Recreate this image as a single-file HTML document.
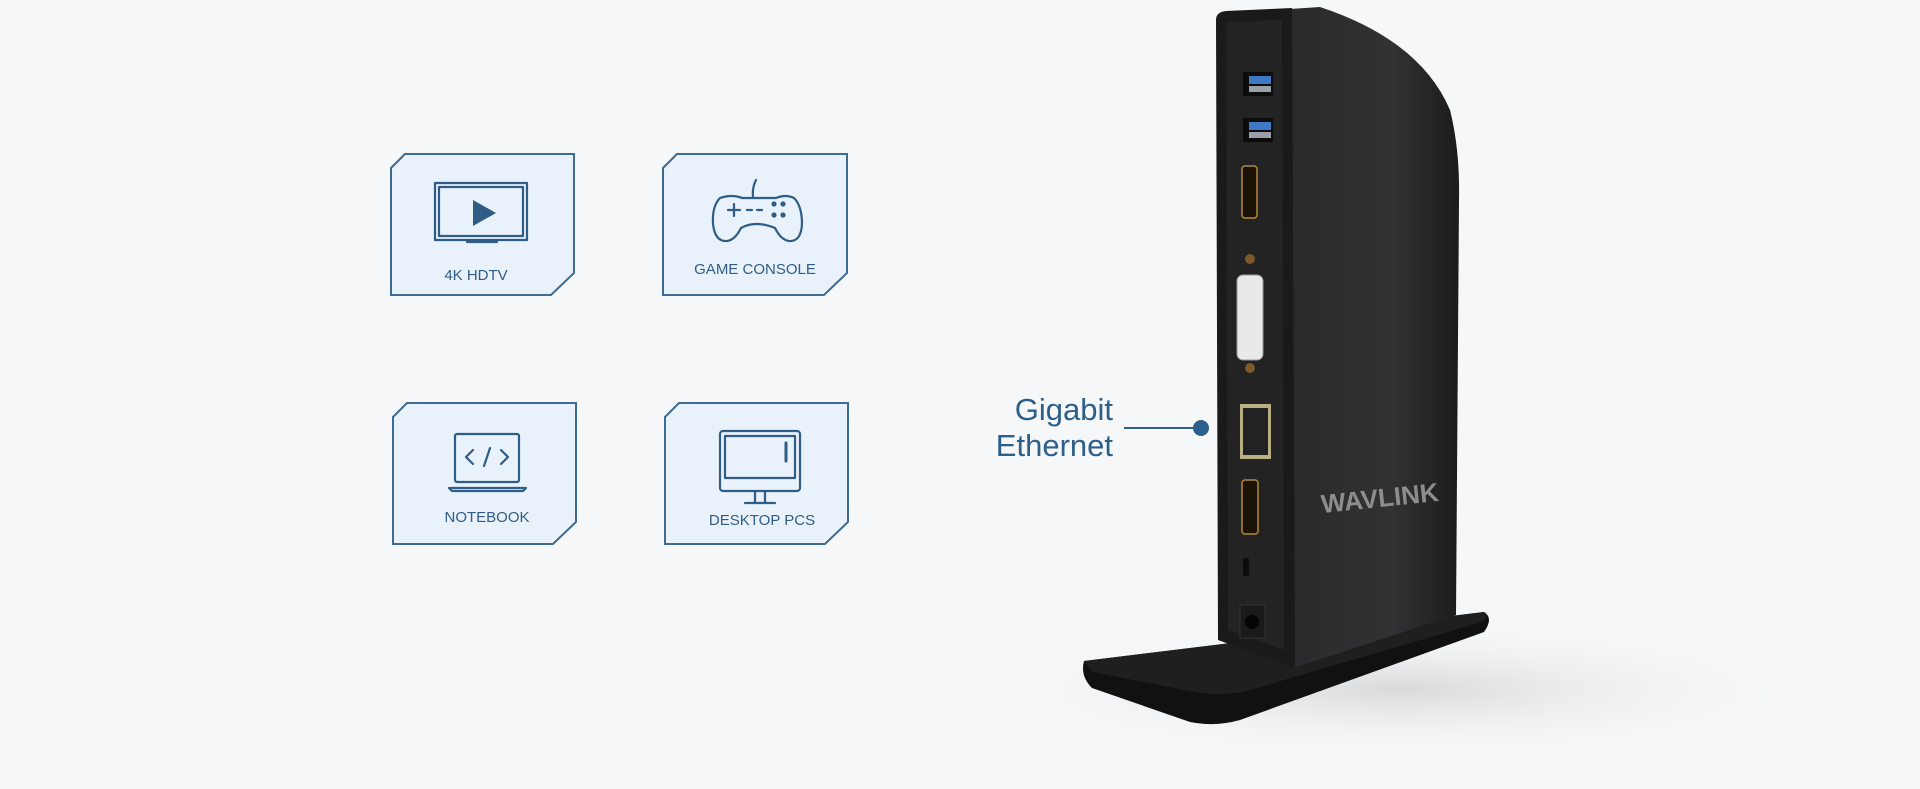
<!DOCTYPE html>
<html><head><meta charset="utf-8"><style>
html,body{margin:0;padding:0;background:#f6f7f8;}
svg{display:block}
</style></head><body>
<svg width="1920" height="789" viewBox="0 0 1920 789" xmlns="http://www.w3.org/2000/svg">
<defs>
<linearGradient id="side" x1="0" y1="0" x2="1" y2="0">
<stop offset="0" stop-color="#2a2a2c"/><stop offset="0.6" stop-color="#323234"/><stop offset="1" stop-color="#1c1c1d"/>
</linearGradient>
<radialGradient id="shadow" cx="0.5" cy="0.5" r="0.5">
<stop offset="0" stop-color="#d8d9da"/><stop offset="1" stop-color="#f6f7f8" stop-opacity="0"/>
</radialGradient>
</defs>
<rect width="1920" height="789" fill="#f6f7f8"/>
<ellipse cx="1400" cy="690" rx="430" ry="70" fill="url(#shadow)"/>

<g fill="#e9f2fa" stroke="#3d6b91" stroke-width="2">
<path d="M391,168 L405,154 L574,154 L574,273 L551,295 L391,295 Z"/>
<path d="M663,168 L677,154 L847,154 L847,273 L824,295 L663,295 Z"/>
<path d="M393,417 L407,403 L576,403 L576,522 L553,544 L393,544 Z"/>
<path d="M665,417 L679,403 L848,403 L848,522 L825,544 L665,544 Z"/>
</g>

<g fill="none" stroke="#2f5d86" stroke-width="2.2" stroke-linejoin="round" stroke-linecap="round">
<!-- TV -->
<rect x="435" y="183" width="92" height="57"/>
<rect x="439" y="187" width="84" height="49"/>
<line x1="467" y1="242" x2="497" y2="242"/>
<!-- gamepad -->
<path d="M756,180 q-4,8 -3,17 M720,198 q-8,8 -7,26 q2,18 14,17 q8,-1 14,-13 q14,-8 34,0 q6,12 14,13 q12,1 13,-17 q0,-18 -8,-26 q-8,-4 -18,0 l-34,0 q-10,-4 -22,0 Z"/>
<path d="M728,210 h12 M734,204 v12 M747,210 h5 M757,210 h5"/>
<!-- laptop -->
<rect x="455" y="434" width="64" height="48" rx="2"/>
<path d="M449,488 h77 l-3,3 h-71 Z"/>
<path d="M473,450 l-7,7 l7,7 M501,450 l7,7 l-7,7 M490,448 l-6,18"/>
<!-- desktop -->
<rect x="720" y="431" width="80" height="60" rx="3"/>
<rect x="725" y="436" width="70" height="42"/>
<line x1="786" y1="443" x2="786" y2="461" stroke-width="3"/>
<path d="M755,492 v10 M765,492 v10 M745,503 h30"/>
</g>
<polygon points="473,200 473,226 496,213" fill="#2f5d86"/>
<g fill="#2f5d86"><circle cx="774" cy="204" r="2.6"/><circle cx="783" cy="204" r="2.6"/><circle cx="774" cy="215" r="2.6"/><circle cx="783" cy="215" r="2.6"/></g>

<g font-family="'Liberation Sans',sans-serif" font-size="15" fill="#2f5d86" text-anchor="middle">
<text x="476" y="280">4K HDTV</text>
<text x="755" y="274">GAME CONSOLE</text>
<text x="487" y="522">NOTEBOOK</text>
<text x="762" y="525">DESKTOP PCS</text>
</g>

<g font-family="'Liberation Sans',sans-serif" font-size="31" fill="#2c5f8a" text-anchor="end">
<text x="1113" y="420">Gigabit</text>
<text x="1113" y="456">Ethernet</text>
</g>
<line x1="1124" y1="428" x2="1198" y2="428" stroke="#2c5f8a" stroke-width="2"/>
<circle cx="1201" cy="428" r="8" fill="#2c5f8a"/>

<!-- base -->
<path d="M1084,661 L1484,612 Q1494,618 1484,632 L1240,720 Q1215,727 1190,722 L1092,688 Q1080,676 1084,661 Z" fill="#111112"/>
<path d="M1084,661 L1484,612 Q1490,616 1482,622 L1250,690 Q1222,697 1195,692 L1092,672 Z" fill="#1f1f20"/>
<!-- body side -->
<path d="M1290,9 L1320,7 Q1420,40 1450,110 Q1460,150 1459,200 L1456,615 L1293,668 Z" fill="url(#side)"/>
<!-- front panel -->
<path d="M1216,20 Q1216,12 1226,11 L1292,8 L1295,668 L1218,640 Z" fill="#1a1a1b"/>
<path d="M1226,22 L1282,20 L1284,650 L1228,630 Z" fill="#232324"/>
<!-- ports -->
<g>
<rect x="1243" y="72" width="30" height="24" fill="#0c0c0c"/><rect x="1249" y="76" width="22" height="8" fill="#3f78c4"/><rect x="1249" y="86" width="22" height="6" fill="#9aa0a6"/>
<rect x="1243" y="118" width="30" height="24" fill="#0c0c0c"/><rect x="1249" y="122" width="22" height="8" fill="#3f78c4"/><rect x="1249" y="132" width="22" height="6" fill="#9aa0a6"/>
<rect x="1242" y="166" width="15" height="52" rx="3" fill="#1b1308" stroke="#b48a3c" stroke-width="1.5"/>
<circle cx="1250" cy="259" r="5" fill="#7a5a2a"/>
<rect x="1237" y="275" width="26" height="85" rx="6" fill="#e9e9e9" stroke="#999"/>
<circle cx="1250" cy="368" r="5" fill="#7a5a2a"/>
<rect x="1240" y="404" width="31" height="55" fill="#b8b080"/><rect x="1243" y="408" width="25" height="47" fill="#222"/>
<rect x="1242" y="480" width="16" height="54" rx="3" fill="#1b1308" stroke="#b48a3c" stroke-width="1.5"/>
<rect x="1243" y="558" width="6" height="18" rx="2" fill="#0c0c0c"/>
<rect x="1240" y="605" width="25" height="33" fill="#1a1a1a" stroke="#333"/><circle cx="1252" cy="622" r="7" fill="#050505"/>
</g>
<text x="1380" y="507" font-family="'Liberation Sans',sans-serif" font-weight="bold" font-size="26" fill="#8c8d8f" text-anchor="middle" transform="rotate(-6 1380 500)">WAVLINK</text>
</svg>
</body></html>
